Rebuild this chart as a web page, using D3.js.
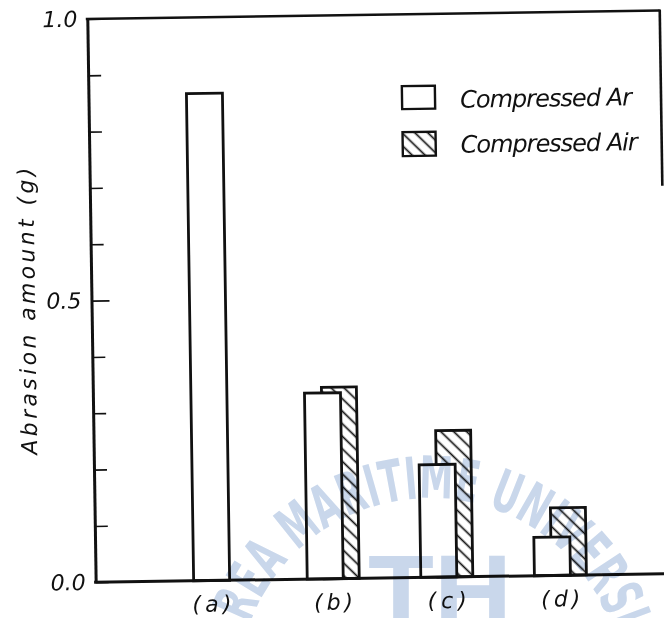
<!DOCTYPE html>
<html>
<head>
<meta charset="utf-8">
<script src="https://cdn.jsdelivr.net/npm/d3@7"></script>
<style>
  html, body { margin: 0; padding: 0; background: #fff; }
  svg { display: block; }
  text { font-family: "DejaVu Sans", sans-serif; font-style: italic; }
</style>
</head>
<body>
<svg id="chart" width="664" height="618"></svg>
<script>
// Abrasion amount per test condition
const categories   = ["(a)", "(b)", "(c)", "(d)"];
const arValues     = [0.865, 0.33, 0.20, 0.068];   // Compressed Ar
const airValues    = [null, 0.34, 0.26, 0.12];     // Compressed Air
const seriesNames  = ["Compressed Ar", "Compressed Air"];
const yTickValues  = [0, 0.1, 0.2, 0.3, 0.4, 0.5, 0.6, 0.7, 0.8, 0.9, 1.0];
const yLabelValues = [0, 0.5, 1.0];
const yLabelTexts  = ["0.0", "0.5", "1.0"];
const yAxisTitle   = "Abrasion amount (g)";
const stampText    = "KOREA MARITIME UNIVERSITY";
const stampMark    = "TH";

const ink = "#111";
const svg = d3.select("#chart");
const defs = svg.append("defs");

// diagonal hatch ("\\\") used for the Compressed Air bars
const hatch = defs.append("pattern")
  .attr("id", "hatch")
  .attr("patternUnits", "userSpaceOnUse")
  .attr("width", 9).attr("height", 9)
  .attr("patternTransform", "rotate(45)");
hatch.append("rect").attr("width", 9).attr("height", 9).attr("fill", "#fff");
hatch.append("line")
  .attr("x1", 0).attr("x2", 9).attr("y1", 4.5).attr("y2", 4.5)
  .attr("stroke", ink).attr("stroke-width", 1.7);

// the whole plate sits slightly askew
const g = svg.append("g").attr("transform", "rotate(-0.85 380 300)");

const axisX = 91.5;
const rightX = 664;
const y = d3.scaleLinear().domain([0, 1]).range([578, 14.7]);
const x = d3.scaleBand().domain(categories).range([158.5, 612.9]).paddingInner(0);

const barOff = 31, barW = 36, hatchOff = 17, hatchW = 35;
const rows = categories.map((c, i) => ({ cat: c, ar: arValues[i], air: airValues[i] }));

// Compressed Air bars (behind)
g.append("g").selectAll("rect")
  .data(rows.filter(d => d.air != null))
  .join("rect")
  .attr("x", d => x(d.cat) + barOff + hatchOff)
  .attr("y", d => y(d.air))
  .attr("width", hatchW)
  .attr("height", d => y(0) - y(d.air))
  .attr("fill", "url(#hatch)")
  .attr("stroke", ink).attr("stroke-width", 2.8);

// Compressed Ar bars (front, open)
g.append("g").selectAll("rect")
  .data(rows)
  .join("rect")
  .attr("x", d => x(d.cat) + barOff)
  .attr("y", d => y(d.ar))
  .attr("width", barW)
  .attr("height", d => y(0) - y(d.ar))
  .attr("fill", "#fff")
  .attr("stroke", ink).attr("stroke-width", 2.8);

// y axis with inward ticks, labels only at 0, 0.5 and 1.0
const yAxis = d3.axisLeft(y)
  .tickValues(yTickValues)
  .tickSizeInner(-13)
  .tickSizeOuter(0)
  .tickPadding(10)
  .tickFormat(d => {
    const i = yLabelValues.findIndex(v => Math.abs(v - d) < 1e-9);
    return i >= 0 ? yLabelTexts[i] : "";
  });
const ya = g.append("g").attr("transform", `translate(${axisX},0)`).call(yAxis);
ya.select(".domain").attr("stroke", ink).attr("stroke-width", 3);
ya.selectAll(".tick line").attr("stroke", ink).attr("stroke-width", 1.6)
  .filter(d => Math.abs(d - 0.5) < 1e-9).attr("x2", 18);
ya.selectAll(".tick text").filter(function () { return this.textContent === ""; }).remove();
ya.selectAll(".tick text")
  .attr("font-size", 22)
  .style("font-family", "\"DejaVu Sans\", sans-serif")
  .style("font-style", "italic")
  .style("fill", ink);

// baseline, top frame and the short right edge
g.append("line").attr("x1", axisX - 1.5).attr("x2", 680).attr("y1", y(0)).attr("y2", y(0))
  .attr("stroke", ink).attr("stroke-width", 3);
g.append("line").attr("x1", axisX - 1.5).attr("x2", rightX).attr("y1", y(1)).attr("y2", y(1))
  .attr("stroke", ink).attr("stroke-width", 2.6);
g.append("line").attr("x1", rightX).attr("x2", rightX).attr("y1", y(1) - 1).attr("y2", 190)
  .attr("stroke", ink).attr("stroke-width", 2.6);

// category labels under each group
g.append("g").selectAll("text")
  .data(rows)
  .join("text")
  .attr("x", d => d.air == null
      ? x(d.cat) + barOff + barW / 2
      : x(d.cat) + barOff + (hatchOff + hatchW) / 2)
  .attr("y", 609)
  .attr("text-anchor", "middle")
  .attr("font-size", 22)
  .attr("textLength", 39)
  .attr("lengthAdjust", "spacing")
  .style("fill", ink)
  .text(d => d.cat);

// y axis title
g.append("text")
  .attr("transform", "translate(35,306) rotate(-90)")
  .attr("text-anchor", "middle")
  .attr("font-size", 22)
  .attr("textLength", 287)
  .attr("lengthAdjust", "spacing")
  .style("fill", ink)
  .text(yAxisTitle);

// legend
const legend = g.append("g").attr("transform", "translate(405,0)");
const legendRows = [
  { name: seriesNames[0], fill: "#fff",        top: 86.5,  h: 23, base: 109, len: 172 },
  { name: seriesNames[1], fill: "url(#hatch)", top: 132.5, h: 24, base: 154, len: 177 }
];
legend.selectAll("rect")
  .data(legendRows)
  .join("rect")
  .attr("x", 0).attr("y", d => d.top)
  .attr("width", 33).attr("height", d => d.h)
  .attr("fill", d => d.fill)
  .attr("stroke", ink).attr("stroke-width", 2.4);
legend.selectAll("text")
  .data(legendRows)
  .join("text")
  .attr("x", 58).attr("y", d => d.base)
  .attr("font-size", 24)
  .attr("textLength", d => d.len)
  .attr("lengthAdjust", "spacing")
  .style("fill", ink)
  .text(d => d.name);

// pale university stamp laid over the plate
const stampInk = "#c9d7eb";
const stamp = svg.append("g").style("mix-blend-mode", "multiply");
const cx = 430, cy = 690, r = 192;
stamp.append("path")
  .attr("id", "stampArc")
  .attr("d", `M${cx - r},${cy} A${r},${r} 0 0 1 ${cx + r},${cy}`)
  .attr("fill", "none");
stamp.append("text")
  .attr("font-size", 58)
  .style("font-family", "\"DejaVu Sans Condensed\", \"Liberation Sans Narrow\", sans-serif")
  .style("font-style", "normal")
  .style("font-weight", "bold")
  .style("fill", stampInk)
  .append("textPath")
  .attr("href", "#stampArc")
  .attr("startOffset", "50%")
  .attr("text-anchor", "middle")
  .attr("textLength", 576)
  .attr("lengthAdjust", "spacingAndGlyphs")
  .text(stampText);
stamp.append("text")
  .attr("x", 440).attr("y", 630)
  .attr("text-anchor", "middle")
  .attr("font-size", 108)
  .style("font-family", "\"Liberation Sans\", sans-serif")
  .style("font-style", "normal")
  .style("font-weight", "bold")
  .style("fill", stampInk)
  .text(stampMark);
</script>
</body>
</html>
